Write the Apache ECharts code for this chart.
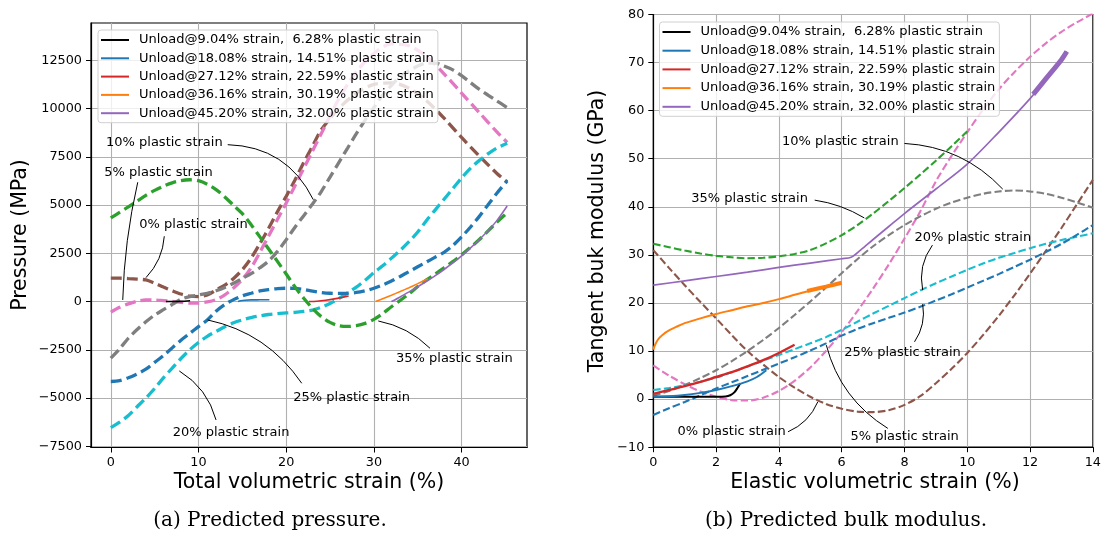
<!DOCTYPE html>
<html><head><meta charset="utf-8">
<script src="https://cdn.jsdelivr.net/npm/echarts@6/dist/echarts.min.js"></script>
<style>html,body{margin:0;padding:0;background:#fff}#c{width:1104px;height:534px}</style>
</head><body><div id="c"></div>
<script>
// ---------- Legend labels ----------
const unloadNames = [
  'Unload@9.04% strain,  6.28% plastic strain',
  'Unload@18.08% strain, 14.51% plastic strain',
  'Unload@27.12% strain, 22.59% plastic strain',
  'Unload@36.16% strain, 30.19% plastic strain',
  'Unload@45.20% strain, 32.00% plastic strain'
];
// ---------- Tick values ----------
const strainTicksA = [0, 10, 20, 30, 40];
const pressureTicks = [-7500, -5000, -2500, 0, 2500, 5000, 7500, 10000, 12500];

// ---------- (a) Pressure vs total volumetric strain : [strain %, MPa] ----------
const pA_0 = [[0,1210],[1,1210],[2,1190],[3,1160],[4,1120],[5,950],[6,750],[7,560],[8,390],[9,280],[10,260],[11,340],[12,600],[13,850],[14,1200],[15,1650],[16,2250],[17,3000],[18,3800],[19,4650],[20,5450],[21,6300],[22,7200],[23,8050],[24,8900],[26,10000],[28,10800],[30,11250],[32,11330],[34,11050],[36,10400],[38,9500],[40,8500],[42,7550],[44,6650],[45.2,6200]];
const pA_5 = [[0,-550],[1,-300],[2,-120],[3,20],[4,80],[5,80],[6,50],[7,10],[8,-40],[9,-80],[10,-80],[11,-20],[12,100],[13,350],[14,700],[15,1150],[16,1750],[17,2550],[18,3400],[19,4250],[20,5100],[21,6000],[22,6900],[23,7800],[24,8700],[26,10500],[28,11900],[30,12850],[32,13350],[34,13250],[36,12700],[38,11800],[40,10800],[42,9800],[44,8800],[45.2,8250]];
const pA_10 = [[0,-2930],[1,-2450],[2,-1900],[3,-1450],[4,-1050],[5,-700],[6,-420],[7,-150],[8,120],[9,260],[10,340],[11,430],[12,560],[13,730],[14,950],[15,1200],[16,1450],[17,1750],[18,2100],[19,2600],[20,3200],[21,3850],[22,4450],[23,5050],[24,5700],[25,6450],[26,7200],[27,7950],[28,8700],[29,9400],[30,10050],[31,10700],[32,11200],[33,11650],[34,11950],[35,12200],[36,12350],[37,12350],[38,12200],[39,12000],[40,11700],[41,11350],[42,11000],[43,10700],[44,10400],[45.2,10050]];
const pA_20 = [[0,-6530],[1,-6250],[2,-5900],[3,-5450],[4,-5000],[5,-4500],[6,-3950],[7,-3450],[8,-2950],[9,-2500],[10,-2120],[11,-1800],[12,-1550],[13,-1300],[14,-1100],[15,-950],[16,-830],[17,-740],[18,-670],[19,-620],[20,-590],[21,-560],[22,-510],[23,-440],[24,-300],[25,-100],[26,150],[27,450],[28,750],[29,1100],[30,1500],[31,1850],[32,2250],[33,2650],[34,3100],[35,3600],[36,4200],[37,4750],[38,5300],[39,5850],[40,6400],[41,6900],[42,7300],[43,7650],[44,7950],[45.2,8200]];
const pA_25 = [[0,-4140],[1,-4100],[2,-3950],[3,-3750],[4,-3500],[5,-3150],[6,-2800],[7,-2400],[8,-2000],[9,-1650],[10,-1300],[11,-950],[12,-500],[13,-150],[14,100],[15,300],[16,430],[17,550],[18,620],[19,670],[20,690],[21,680],[22,620],[23,540],[24,470],[25,430],[26,420],[27,430],[28,470],[29,560],[30,690],[31,860],[32,1060],[33,1300],[34,1550],[35,1800],[36,2050],[37,2300],[38,2550],[39,2900],[40,3350],[41,3850],[42,4400],[43,5000],[44,5600],[45.2,6250]];
const pA_35 = [[0,4330],[1,4620],[2,4900],[3,5200],[4,5500],[5,5760],[6,5980],[7,6150],[8,6270],[9,6310],[10,6260],[11,6080],[12,5800],[13,5420],[14,4980],[15,4550],[16,3980],[17,3350],[18,2720],[19,2080],[20,1430],[21,760],[22,170],[23,-350],[24,-780],[25,-1080],[26,-1250],[27,-1290],[28,-1250],[29,-1130],[30,-920],[31,-620],[32,-270],[33,60],[34,400],[35,780],[36,1120],[37,1430],[38,1750],[39,2070],[40,2420],[41,2800],[42,3200],[43,3650],[44,4100],[45.2,4600]];
const pA_u1 = [[6.28,0],[7,0],[8,10],[9.04,40]];
const pA_u2 = [[14.51,0],[14.8,40],[15.3,70],[16,85],[17,90],[18.08,95]];
const pA_u3 = [[22.59,0],[23.5,20],[24.5,70],[25.5,140],[26.5,230],[27.12,290]];
const pA_u4 = [[30.19,0],[31,150],[32,330],[33,520],[34,720],[35,930],[36.16,1180]];
const pA_u5 = [[32,0],[33,240],[34,500],[35,770],[36,1050],[37,1340],[38,1660],[39,2000],[40,2370],[41,2770],[42,3200],[43,3670],[44,4180],[45.2,4950]];

// ---------- (b) Tangent bulk modulus vs elastic volumetric strain : [strain %, GPa] ----------
const kB_0 = [[0,31],[0.5,27.3],[1,23.7],[1.5,20.2],[2,16.8],[2.5,13.3],[3,10],[3.5,7.2],[4,4.6],[4.5,2.4],[5,0.5],[5.5,-1],[6,-2],[6.5,-2.6],[7,-2.7],[7.5,-2.3],[8,-1.2],[8.5,0.6],[9,3.3],[9.5,6.3],[10,9.6],[10.5,13.3],[11,17.3],[11.5,21.6],[12,26.1],[12.5,30.8],[13,35.6],[13.5,40.6],[14,45.6]];
const kB_5 = [[0,7],[0.5,4.9],[1,3.1],[1.5,1.6],[2,0.5],[2.5,-0.2],[3,-0.3],[3.5,0.3],[4,1.7],[4.5,3.8],[5,6.6],[5.5,10],[6,13.9],[6.5,18.3],[7,23],[7.5,28],[8,33.4],[8.5,39],[9,45.3],[9.5,50.6],[10,55.5],[10.5,60.2],[11,64.4],[11.5,68],[12,71.2],[12.5,74],[13,76.4],[13.5,78.4],[14,80.2]];
const kB_10 = [[0,0.7],[0.5,1.7],[1,2.9],[1.5,4.4],[2,6],[2.5,7.9],[3,10],[3.5,12.3],[4,14.8],[4.5,17.5],[5,20.3],[5.5,23.2],[6,26.2],[6.5,29.1],[7,31.8],[7.5,34.1],[8,36.2],[8.5,38],[9,39.6],[9.5,40.9],[10,41.9],[10.5,42.7],[11,43.2],[11.5,43.4],[12,43.2],[12.5,42.7],[13,41.9],[13.5,40.9],[14,39.8]];
const kB_20 = [[0,1.9],[0.5,2.3],[1,2.9],[1.5,3.6],[2,4.5],[2.5,5.6],[3,6.8],[3.5,8],[4,9.2],[4.5,10.4],[5,11.6],[5.5,12.9],[6,14.4],[6.5,16.1],[7,17.8],[7.5,19.4],[8,21],[8.5,22.6],[9,24.1],[9.5,25.5],[10,26.9],[10.5,28.2],[11,29.4],[11.5,30.4],[12,31.4],[12.5,32.3],[13,33.1],[13.5,33.8],[14,34.5]];
const kB_25 = [[0,-3.3],[0.5,-1.9],[1,-0.6],[1.5,0.8],[2,2.2],[2.5,3.5],[3,4.8],[3.5,6.1],[4,7.4],[4.5,8.7],[5,10.1],[5.5,11.6],[6,13.2],[6.5,14.6],[7,15.8],[7.5,16.9],[8,18],[8.5,19.2],[9,20.5],[9.5,21.8],[10,23.2],[10.5,24.6],[11,26],[11.5,27.5],[12,29],[12.5,30.6],[13,32.3],[13.5,34.2],[14,36.2]];
const kB_35 = [[0,32.3],[0.5,31.6],[1,30.9],[1.5,30.3],[2,29.8],[2.5,29.5],[3,29.3],[3.5,29.4],[4,29.7],[4.5,30.2],[5,31],[5.5,32.4],[6,34.1],[6.5,36.2],[7,38.6],[7.5,41.2],[8,43.9],[8.5,46.7],[9,49.6],[9.5,52.6],[10,55.7]];
const kB_u1 = [[0,0.5],[0.5,0.5],[1,0.5],[1.5,0.5],[2,0.5],[2.3,0.55],[2.45,0.8],[2.58,1.4],[2.68,2.3],[2.77,3.3]];
const kB_u2 = [[0,0.5],[0.5,0.6],[1,0.85],[1.5,1.3],[2,1.9],[2.5,2.7],[3,3.7],[3.3,4.6],[3.6,6]];
const kB_u3 = [[0,1.1],[0.5,1.9],[1,2.7],[1.5,3.6],[2,4.6],[2.5,5.6],[3,6.8],[3.5,8.1],[4,9.6],[4.5,11.3]];
const kB_u4 = [[0,10.3],[0.05,11.2],[0.15,12.4],[0.3,13.4],[0.5,14.3],[0.75,15.1],[1,15.8],[1.5,16.8],[2,17.7],[2.5,18.5],[3,19.3],[3.5,20],[4,20.8],[4.5,21.7],[5,22.6],[5.5,23.4],[6,24.2]];
const kB_u4_band = [[4.9,22.5],[5.5,23.4],[6,24.2]];
const kB_u5 = [[0,23.7],[1,24.6],[2,25.5],[3,26.4],[4,27.4],[5,28.3],[6,29.2],[6.3,29.5],[6.6,31],[7,33.2],[7.5,35.9],[8,38.6],[9,43.7],[10,48.9],[11,55.5],[12,62.5],[12.5,66.6],[13,70.6],[13.17,72.3]];
const kB_u5_band = [[12.1,63.4],[12.5,66.6],[13,70.6],[13.17,72.3]];

// ---------- Annotations (data coordinates) ----------
const annotations = [
  {g:0, text:'10% plastic strain', at:[-0.55,8210], from:[13.33,8127], to:[23.09,5278], rad:0.3},
  {g:0, text:'5% plastic strain',  at:[-0.74,6698], from:[3.07,6180],  to:[1.36,83],    rad:-0.05},
  {g:0, text:'0% plastic strain',  at:[3.25,3983],  from:[6.1,3383],   to:[4.01,1238],  rad:0.18},
  {g:0, text:'25% plastic strain', at:[20.81,-4978],from:[21.77,-4232],to:[11.05,-953], rad:-0.2},
  {g:0, text:'20% plastic strain', at:[7.06,-6770], from:[12.0,-6133], to:[7.81,-3595], rad:-0.2},
  {g:0, text:'35% plastic strain', at:[32.52,-2937],from:[36.4,-2419], to:[30.5,-1005], rad:-0.15},
  {g:1, text:'10% plastic strain', at:[4.10,53.66], from:[8.0,53.18],  to:[11.13,43.68],rad:0.2},
  {g:1, text:'35% plastic strain', at:[1.21,41.74], from:[5.14,41.39], to:[6.72,37.69], rad:0.1},
  {g:1, text:'20% plastic strain', at:[8.32,33.63], from:[8.89,32.03], to:[8.58,22.67], rad:-0.22},
  {g:1, text:'25% plastic strain', at:[6.08,9.63],  from:[8.32,11.92], to:[8.58,19.76], rad:-0.2},
  {g:1, text:'0% plastic strain',  at:[0.77,-6.8],  from:[4.29,-6.8],  to:[5.24,-0.56], rad:-0.2},
  {g:1, text:'5% plastic strain',  at:[6.28,-7.7],  from:[7.47,-6.09], to:[5.51,11.23], rad:0.2}
];

// ---------- Styling ----------
const FONT = 'DejaVu Sans';
const C = {blue:'#1f77b4', orange:'#ff7f0e', green:'#2ca02c', red:'#d62728', purple:'#9467bd',
           brown:'#8c564b', pink:'#e377c2', gray:'#7f7f7f', cyan:'#17becf', black:'#000000'};
const minus = v => String(v).replace('-', '\u2212');

function dashed(name, data, color, g) {
  return {type:'line', name, data, xAxisIndex:g, yAxisIndex:g, symbol:'none', showSymbol:false,
    smooth:0.3, silent:true, animation:false,
    lineStyle:{color, width: g===0 ? 3.3 : 2.1, type: g===0 ? [11,5] : [7.4,3.2], cap:'butt'}};
}
function solid(name, data, color, g, w) {
  return {type:'line', name, data, xAxisIndex:g, yAxisIndex:g, symbol:'none', showSymbol:false,
    smooth:0.3, silent:true, animation:false, itemStyle:{color},
    lineStyle:{color, width: w || 1.6, type:'solid'}};
}
const unloadColors = [C.black, C.blue, C.red, C.orange, C.purple];

function axisCommon() {
  return {
    axisLine:{show:true, onZero:false, lineStyle:{color:'#000', width:1.2}},
    axisTick:{show:true, length:5, lineStyle:{color:'#000', width:1}},
    splitLine:{show:true, lineStyle:{color:'#b0b0b0', width:1.1}},
    axisLabel:{color:'#000', fontFamily:FONT, fontSize:12.8, margin:9, formatter:minus}
  };
}

const chart = echarts.init(document.getElementById('c'), null, {renderer:'canvas'});

const legendBase = {
  orient:'vertical', itemWidth:28, itemHeight:14, icon:'path://M0,6.5 L28,6.5 L28,8.5 L0,8.5 Z',
  backgroundColor:'rgba(255,255,255,0.8)', borderColor:'#d0d0d0', borderWidth:1, borderRadius:3,
  textStyle:{fontFamily:FONT, fontSize:13, color:'#000', padding:[0,0,0,5]},
  data: unloadNames.map((n,i)=>({name:n, itemStyle:{color:unloadColors[i]}})),
  selectedMode:false
};

const option = {
  backgroundColor:'#fff',
  animation:false,
  grid:[
    {left:91, top:23, width:436, height:424.5, show:true, borderColor:'#000', borderWidth:1.2, backgroundColor:'transparent'},
    {left:653.3, top:14.5, width:443.4, height:432.7, show:true, borderColor:'#000', borderWidth:1.2, backgroundColor:'transparent'}
  ],
  xAxis:[
    Object.assign(axisCommon(), {type:'value', gridIndex:0, min:-2.26, max:47.46, minInterval:10, maxInterval:10}),
    Object.assign(axisCommon(), {type:'value', gridIndex:1, min:0, max:14, interval:2})
  ],
  yAxis:[
    Object.assign(axisCommon(), {type:'value', gridIndex:0, min:-7560, max:14430, minInterval:2500, maxInterval:2500}),
    Object.assign(axisCommon(), {type:'value', gridIndex:1, min:-10, max:80, interval:10})
  ],
  legend:[
    Object.assign({}, legendBase, {left:98, top:30, itemGap:5.3, padding:[3.5,4,3,3]}),
    Object.assign({}, legendBase, {left:659.5, top:22, itemGap:5.7, padding:[3.5,4,3,3]})
  ],
  series:[
    dashed('a0', pA_0, C.brown, 0),
    dashed('a5', pA_5, C.pink, 0),
    dashed('a10', pA_10, C.gray, 0),
    dashed('a20', pA_20, C.cyan, 0),
    dashed('a25', pA_25, C.blue, 0),
    dashed('a35', pA_35, C.green, 0),
    solid(unloadNames[0], pA_u1, C.black, 0),
    solid(unloadNames[1], pA_u2, C.blue, 0),
    solid(unloadNames[2], pA_u3, C.red, 0),
    solid(unloadNames[3], pA_u4, C.orange, 0),
    solid(unloadNames[4], pA_u5, C.purple, 0),
    dashed('b0', kB_0, C.brown, 1),
    dashed('b5', kB_5, C.pink, 1),
    dashed('b10', kB_10, C.gray, 1),
    dashed('b20', kB_20, C.cyan, 1),
    dashed('b25', kB_25, C.blue, 1),
    dashed('b35', kB_35, C.green, 1),
    solid(unloadNames[0], kB_u1, C.black, 1, 2),
    solid(unloadNames[1], kB_u2, C.blue, 1, 2),
    solid(unloadNames[2], kB_u3, C.red, 1, 2.4),
    solid(unloadNames[3], kB_u4, C.orange, 1, 2),
    solid('b-u4-band', kB_u4_band, C.orange, 1, 4),
    solid(unloadNames[4], kB_u5, C.purple, 1, 1.7),
    solid('b-u5-band', kB_u5_band, C.purple, 1, 5)
  ]
};
// panel (a): ticks/labels only at the round values
option.xAxis[0].axisLabel.customValues = strainTicksA; option.xAxis[0].axisTick.customValues = strainTicksA;
option.yAxis[0].axisLabel.customValues = pressureTicks; option.yAxis[0].axisTick.customValues = pressureTicks;

chart.setOption(option);

// ---------- Annotations, axis titles and captions ----------
const graphics = [];
annotations.forEach(a => {
  const t = chart.convertToPixel({gridIndex:a.g}, a.at);
  const s = chart.convertToPixel({gridIndex:a.g}, a.from);
  const e = chart.convertToPixel({gridIndex:a.g}, a.to);
  const dx = e[0]-s[0], dy = e[1]-s[1];
  const cx = (s[0]+e[0])/2 + a.rad*dy, cy = (s[1]+e[1])/2 - a.rad*dx;
  graphics.push({type:'bezierCurve', silent:true, z:50,
    shape:{x1:s[0], y1:s[1], x2:e[0], y2:e[1], cpx1:cx, cpy1:cy},
    style:{stroke:'#000', lineWidth:1, fill:null}});
  graphics.push({type:'text', silent:true, z:50, x:t[0], y:t[1],
    style:{text:a.text, fontFamily:FONT, fontSize:13, fill:'#000', align:'left', verticalAlign:'middle'}});
});
const titles = [
  {text:'Pressure (MPa)', x:21, y:235, rot:Math.PI/2, size:20.5, fam:FONT},
  {text:'Total volumetric strain (%)', x:309, y:483, rot:0, size:20.5, fam:FONT},
  {text:'Tangent buk modulus (GPa)', x:598, y:231, rot:Math.PI/2, size:20.5, fam:FONT},
  {text:'Elastic volumetric strain (%)', x:875, y:483, rot:0, size:20.5, fam:FONT},
  {text:'(a) Predicted pressure.', x:270, y:521, rot:0, size:20, fam:'DejaVu Serif'},
  {text:'(b) Predicted bulk modulus.', x:846, y:521, rot:0, size:20, fam:'DejaVu Serif'}
];
titles.forEach(t => graphics.push({type:'text', silent:true, z:50, x:t.x, y:t.y, rotation:t.rot,
  style:{text:t.text, fontFamily:t.fam, fontSize:t.size, fill:'#000', align:'center', verticalAlign:'middle'}}));
chart.setOption({graphic:graphics});
</script></body></html>
